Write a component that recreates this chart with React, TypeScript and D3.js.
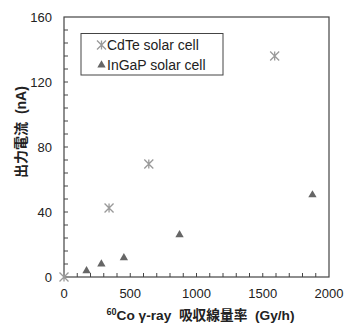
import React, { useEffect, useRef } from "react";
import * as d3 from "d3";

// CdTe solar cell (asterisk markers)
const cdteDose = [0, 340, 640, 1590];
const cdteCurrent = [0, 42.5, 69.5, 136];

// InGaP solar cell (triangle markers)
const ingapDose = [170, 282, 452, 872, 1875];
const ingapCurrent = [3.8, 8, 11.8, 26, 50.5];

const xTicks = [0, 500, 1000, 1500, 2000];
const yTicks = [0, 40, 80, 120, 160];
const legendLabels = ["CdTe solar cell", "InGaP solar cell"];

const W = 346;
const H = 332;
const margin = { top: 17, right: 17, bottom: 55, left: 64 };

export default function App() {
  const ref = useRef<SVGSVGElement>(null);

  useEffect(() => {
    const svg = d3.select(ref.current);
    svg.selectAll("*").remove();

    const x = d3.scaleLinear().domain([0, 2000]).range([margin.left, W - margin.right]);
    const y = d3.scaleLinear().domain([0, 160]).range([H - margin.bottom, margin.top]);
    const font = "'Liberation Sans', Arial, sans-serif";
    const jpFont = "'Noto Sans CJK JP', " + font;

    svg.append("rect").attr("width", W).attr("height", H).attr("fill", "#fff");

    // minor ticks, inside
    const tickColor = "#444";
    svg.append("g")
      .selectAll("line")
      .data(d3.range(100, 2000, 100))
      .join("line")
      .attr("x1", d => x(d)).attr("x2", d => x(d))
      .attr("y1", y(0)).attr("y2", y(0) - 4)
      .attr("stroke", tickColor).attr("stroke-width", 1);
    svg.append("g")
      .selectAll("line")
      .data(d3.range(8, 160, 8))
      .join("line")
      .attr("x1", x(0)).attr("x2", x(0) + 4)
      .attr("y1", d => y(d)).attr("y2", d => y(d))
      .attr("stroke", tickColor).attr("stroke-width", 1);

    // frame
    svg.append("rect")
      .attr("x", x(0)).attr("y", y(160))
      .attr("width", x(2000) - x(0)).attr("height", y(0) - y(160))
      .attr("fill", "none").attr("stroke", "#444").attr("stroke-width", 1.2);

    // tick labels
    svg.append("g")
      .selectAll("text")
      .data(xTicks)
      .join("text")
      .attr("x", d => x(d)).attr("y", y(0) + 21)
      .attr("text-anchor", "middle")
      .attr("font-family", font).attr("font-size", 13).attr("fill", "#222")
      .text(d => d);
    svg.append("g")
      .selectAll("text")
      .data(yTicks)
      .join("text")
      .attr("x", x(0) - 12).attr("y", d => y(d))
      .attr("dy", "0.35em")
      .attr("text-anchor", "end")
      .attr("font-family", font).attr("font-size", 13).attr("fill", "#222")
      .text(d => d);

    // axis titles
    const xt = svg.append("text")
      .attr("x", 200.5).attr("y", 320)
      .attr("text-anchor", "middle")
      .attr("font-family", jpFont)
      .attr("font-weight", "bold").attr("font-size", 13.7).attr("fill", "#222");
    xt.append("tspan").attr("font-size", 8.5).attr("dy", -5).text("60");
    xt.append("tspan").attr("dy", 5).attr("font-family", font).text("Co γ-ray\u00a0\u00a0");
    xt.append("tspan").text("吸収線量率");
    xt.append("tspan").attr("font-family", font).text("\u00a0\u00a0(Gy/h)");

    const yt = svg.append("text")
      .attr("transform", "translate(26,132) rotate(-90)")
      .attr("text-anchor", "middle")
      .attr("font-family", jpFont)
      .attr("font-weight", "bold").attr("font-size", 14).attr("fill", "#222");
    yt.append("tspan").text("出力電流");
    yt.append("tspan").attr("font-family", font).text("\u00a0\u00a0(nA)");

    // markers
    const star = (g: any, cx: number, cy: number) => {
      const r = 4.5;
      const p = `M${cx - r},${cy - r}L${cx + r},${cy + r}M${cx - r},${cy + r}L${cx + r},${cy - r}M${cx},${cy - r}L${cx},${cy + r}`;
      g.append("path").attr("d", p).attr("stroke", "#9a9a9a").attr("stroke-width", 1.3).attr("fill", "none");
    };
    const tri = d3.symbol().type(d3.symbolTriangle).size(30);

    const gC = svg.append("g");
    cdteDose.forEach((d, i) => star(gC, x(d), y(cdteCurrent[i])));

    svg.append("g")
      .selectAll("path")
      .data(ingapDose)
      .join("path")
      .attr("d", tri)
      .attr("transform", (d, i) => `translate(${x(d)},${y(ingapCurrent[i])})`)
      .attr("fill", "#666");

    // legend
    const lg = svg.append("g");
    lg.append("rect")
      .attr("x", 81).attr("y", 33.5).attr("width", 142).attr("height", 41.5)
      .attr("fill", "#fff").attr("stroke", "#444").attr("stroke-width", 1);
    star(lg, 101.5, 45);
    lg.append("path").attr("d", tri).attr("transform", "translate(101.5,65)").attr("fill", "#666");
    lg.selectAll("text")
      .data(legendLabels)
      .join("text")
      .attr("x", 107).attr("y", (d, i) => 45 + i * 20)
      .attr("dy", "0.35em")
      .attr("font-family", font).attr("font-size", 14).attr("fill", "#222")
      .text(d => d);
  }, []);

  return (
    <svg
      ref={ref}
      width={W}
      height={H}
      style={{ position: "absolute", left: 0, top: 0 }}
    />
  );
}
